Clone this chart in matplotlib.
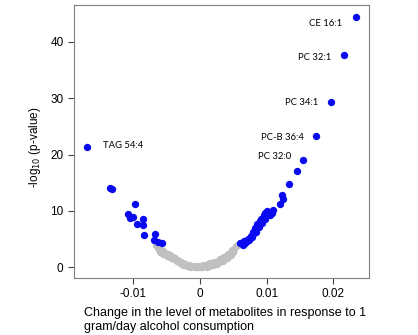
import matplotlib
matplotlib.use('Agg')
import matplotlib.pyplot as plt

# significant metabolites (blue)
sig_x = [-0.0169, -0.0135, -0.0132, -0.00975, -0.01085, -0.0105, -0.0101, -0.0085,
         -0.0094, -0.0085, -0.0084, -0.00675, -0.0069, -0.00575, -0.00625,
         0.0060, 0.0064, 0.0068, 0.0070, 0.0073, 0.0075, 0.0077, 0.0079, 0.0080,
         0.0082, 0.0083, 0.0085, 0.0086, 0.0088, 0.0090, 0.0092, 0.0094, 0.0096,
         0.0098, 0.0100, 0.0102, 0.01075, 0.0110, 0.0120, 0.01225, 0.0125,
         0.01335, 0.01455, 0.01545, 0.0174, 0.0196, 0.0216, 0.02345,
         0.0066, 0.0072, 0.0078, 0.0084, 0.0089, 0.0093, 0.0097, 0.0105]
sig_y = [21.3, 14.0, 13.9, 11.2, 9.4, 8.7, 9.0, 8.5,
         7.6, 7.5, 5.7, 5.85, 4.8, 4.4, 4.5,
         4.4, 4.0, 4.3, 4.6, 4.9, 5.2, 5.6, 5.9, 6.3,
         6.6, 7.0, 7.3, 7.6, 7.9, 8.2, 8.6, 8.8, 9.2,
         9.6, 9.9, 9.6, 9.6, 10.2, 11.3, 12.8, 12.2,
         14.7, 17.0, 19.0, 23.3, 29.3, 37.6, 44.3,
         4.7, 5.0, 5.3, 6.2, 7.2, 7.8, 8.5, 9.2]

# non-significant metabolites (gray)
ns_x = [-0.0066, -0.0063, -0.0061, -0.0058, -0.0056, -0.0053, -0.0050, -0.0048,
        -0.0045, -0.0042, -0.0040, -0.0037, -0.0034, -0.0031, -0.0028, -0.0025,
        -0.0022, -0.0019, -0.0016, -0.0013, -0.0010, -0.0007, -0.0004, 0.0,
        0.0003, 0.0006, 0.0009, 0.0012, 0.0015, 0.0018, 0.0021, 0.0024, 0.0027,
        0.0030, 0.0033, 0.0036, 0.0039, 0.0042, 0.0045, 0.0048, 0.0051, 0.0054,
        0.0057, -0.0050, -0.0035, -0.0020, 0.0010, 0.0025, 0.0040, 0.0046,
        -0.0060, -0.0055, -0.0044, -0.0039, -0.0030, -0.0026, -0.0015, -0.0008,
        -0.0002, 0.0004, 0.0013, 0.0019, 0.0029, 0.0034, 0.0043, 0.0050]
ns_y = [3.9, 3.5, 3.3, 3.0, 2.9, 2.6, 2.4, 2.3,
        2.1, 1.9, 1.8, 1.6, 1.3, 1.1, 0.9, 0.8,
        0.6, 0.5, 0.4, 0.3, 0.2, 0.1, 0.05, 0.0,
        0.1, 0.3, 0.4, 0.6, 0.7, 0.8, 0.9, 1.0, 1.2,
        1.4, 1.6, 1.8, 2.0, 2.3, 2.6, 3.0, 3.3, 3.7,
        4.0, 2.0, 1.2, 0.3, 0.1, 0.6, 1.7, 2.2,
        2.8, 2.4, 1.6, 1.4, 0.8, 0.5, 0.1, 0.3,
        0.2, 0.4, 0.2, 0.5, 0.9, 1.2, 2.0, 2.7]

# labels (text right edge / left edge position)
lab_text = ['CE 16:1', 'PC 32:1', 'PC 34:1', 'PC-B 36:4', 'PC 32:0', 'TAG 54:4']
lab_x = [0.02125, 0.01965, 0.01775, 0.0155, 0.01375, -0.0146]
lab_y = [43.3, 37.2, 29.3, 23.05, 19.7, 21.6]
lab_ha = ['right', 'right', 'right', 'right', 'right', 'left']

plt.rcParams['font.family'] = ['Liberation Sans', 'DejaVu Sans']

fig = plt.figure(figsize=(4.18, 3.35), dpi=100)
ax = fig.add_axes([0.177, 0.170, 0.706, 0.815])

ax.scatter(ns_x, ns_y, s=28, color='#c0c0c0', linewidths=0, zorder=2)
ax.scatter(sig_x, sig_y, s=28, color='#0a0af0', linewidths=0, zorder=3)

for t, x, y, ha in zip(lab_text, lab_x, lab_y, lab_ha):
    ax.text(x, y, t, ha=ha, va='center', fontsize=6.8, family=['Lato', 'DejaVu Sans'])

ax.set_xlim(-0.0189, 0.02535)
ax.set_ylim(-1.9, 46.5)
ax.set_xticks([-0.01, 0, 0.01, 0.02])
ax.set_xticklabels(['-0.01', '0', '0.01', '0.02'])
ax.set_yticks([0, 10, 20, 30, 40])

for sp in ax.spines.values():
    sp.set_color('#808080')
ax.tick_params(colors='#404040', labelcolor='black', labelsize=8.5, length=4)

fig.text(0.083, 0.56, '-log$_{10}$ (p-value)', rotation=90, ha='center', va='center', fontsize=8.5)
fig.text(0.201, 0.045, 'Change in the level of metabolites in response to 1\ngram/day alcohol consumption',
         ha='left', va='center', fontsize=9, linespacing=1.2)

fig.savefig('out.png', dpi=100)
